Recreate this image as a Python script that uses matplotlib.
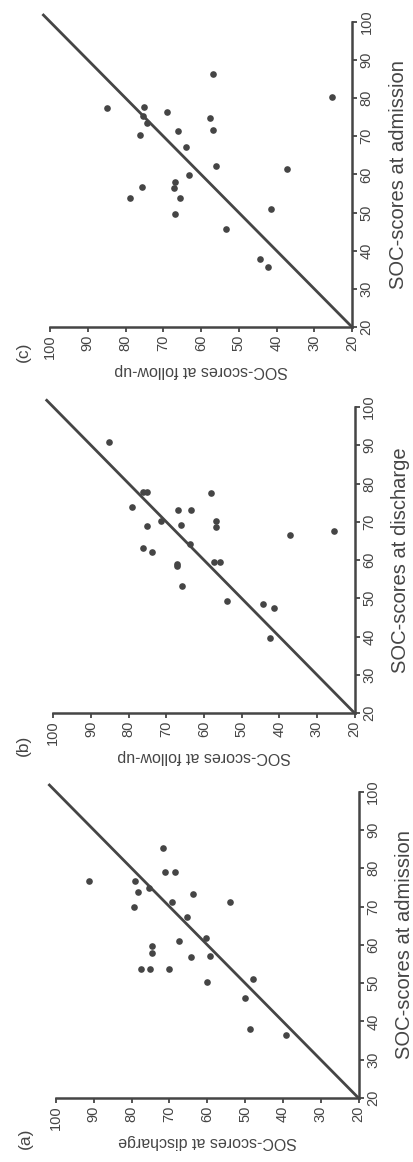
import matplotlib
matplotlib.use("Agg")
import matplotlib.pyplot as plt

# ------------------- DATA -------------------
# (a) admission vs discharge
adm_a = [85.2, 79.1, 79.1, 76.7, 76.7, 73.9, 74.9, 69.8, 71.2, 73.2, 71.2, 67.3, 61.9,
         61.1, 59.7, 57.8, 53.7, 53.7, 53.8, 56.8, 57.2, 50.3, 51.1, 46.1, 38.1, 36.4]
dis_a = [71.7, 71.1, 68.5, 91.3, 79.0, 78.3, 75.5, 79.4, 69.3, 63.8, 54.0, 65.3, 60.4,
         67.4, 74.5, 74.7, 77.6, 75.1, 70.1, 64.2, 59.3, 60.1, 48.0, 49.9, 48.6, 39.3]

# (b) discharge vs follow-up
dis_b = [90.8, 77.9, 77.9, 73.8, 77.5, 73.2, 73.2, 70.3, 68.8, 69.2, 70.3, 68.5, 63.1,
         62.2, 64.2, 59.0, 58.4, 59.5, 59.4, 53.1, 49.3, 48.6, 47.4, 39.5, 66.5, 67.7]
fu_b = [85.1, 76.3, 75.1, 79.1, 58.1, 67.0, 63.4, 71.4, 75.0, 66.2, 56.7, 56.7, 76.2,
        73.9, 63.8, 67.1, 67.1, 57.2, 55.7, 65.9, 53.9, 44.3, 41.3, 42.5, 37.1, 25.5]

# (c) admission vs follow-up
adm_c = [86.2, 77.5, 77.6, 75.4, 73.4, 76.4, 74.7, 71.5, 71.3, 70.3, 67.1, 62.1, 59.7,
         57.9, 56.5, 56.7, 53.8, 53.7, 49.6, 45.8, 50.9, 61.3, 37.8, 35.8, 80.2]
fu_c = [56.8, 84.9, 75.2, 75.4, 74.2, 69.1, 57.6, 56.7, 66.0, 76.2, 64.1, 55.9, 63.2,
        66.9, 67.2, 75.7, 78.8, 65.5, 66.8, 53.4, 41.4, 37.3, 44.4, 42.2, 25.4]

ticks = [20, 30, 40, 50, 60, 70, 80, 90, 100]
ref_line = [20, 102]
# --------------------------------------------

INK = "#454545"
W, H = 413, 1162
plt.rcParams["font.family"] = ["Liberation Sans", "DejaVu Sans"]
plt.rcParams["text.color"] = INK

fig = plt.figure(figsize=(W / 100, H / 100), dpi=100)

# page is printed sideways: original x axis runs up the right side,
# original y axis runs (reversed) along the bottom
panels = [
    # label, horiz values, vert values, horiz label, vert label, px box (l, r, top, bottom), label pos
    ("(a)", dis_a, adm_a, "SOC-scores at discharge", "SOC-scores at admission",
     (56, 358.5, 791.7, 1098), (25, 1138)),
    ("(b)", fu_b, dis_b, "SOC-scores at follow-up", "SOC-scores at discharge",
     (53.3, 354.5, 407, 713), (23, 745)),
    ("(c)", fu_c, adm_c, "SOC-scores at follow-up", "SOC-scores at admission",
     (50, 352, 21.7, 327), (23, 352)),
]

for tag, hvals, vvals, hlab, vlab, (l, r, t, b), (tx, ty) in panels:
    ax = fig.add_axes([l / W, 1 - b / H, (r - l) / W, (b - t) / H])
    ax.scatter(hvals, vvals, s=23, color=INK, linewidths=0, zorder=3)
    ax.plot(ref_line, ref_line, color=INK, lw=2.0, clip_on=False, solid_capstyle="butt")

    ax.set_xlim(100, 20)
    ax.set_ylim(20, 100)
    ax.set_xticks(ticks)
    ax.set_yticks(ticks)

    for side in ["top", "left"]:
        ax.spines[side].set_visible(False)
    for side in ["bottom", "right"]:
        ax.spines[side].set_linewidth(1.8)
        ax.spines[side].set_color(INK)

    ax.yaxis.tick_right()
    ax.yaxis.set_label_position("right")
    ax.tick_params(direction="out", length=3.5, width=1.3, color=INK,
                   labelcolor=INK, labelsize=10.5, pad=2)
    for lbl in ax.get_xticklabels():
        lbl.set_rotation(90)
    for lbl in ax.get_yticklabels():
        lbl.set_rotation(90)
        lbl.set_va("center")

    ax.set_xlabel(hlab, rotation=180, fontsize=11.5, color=INK, labelpad=3)
    ax.set_ylabel(vlab, rotation=90, fontsize=14.5, color=INK, labelpad=11)

    fig.text(tx / W, 1 - ty / H, tag, rotation=90, fontsize=12.5,
             ha="center", va="center", color=INK)

fig.savefig("out.png", dpi=100)
